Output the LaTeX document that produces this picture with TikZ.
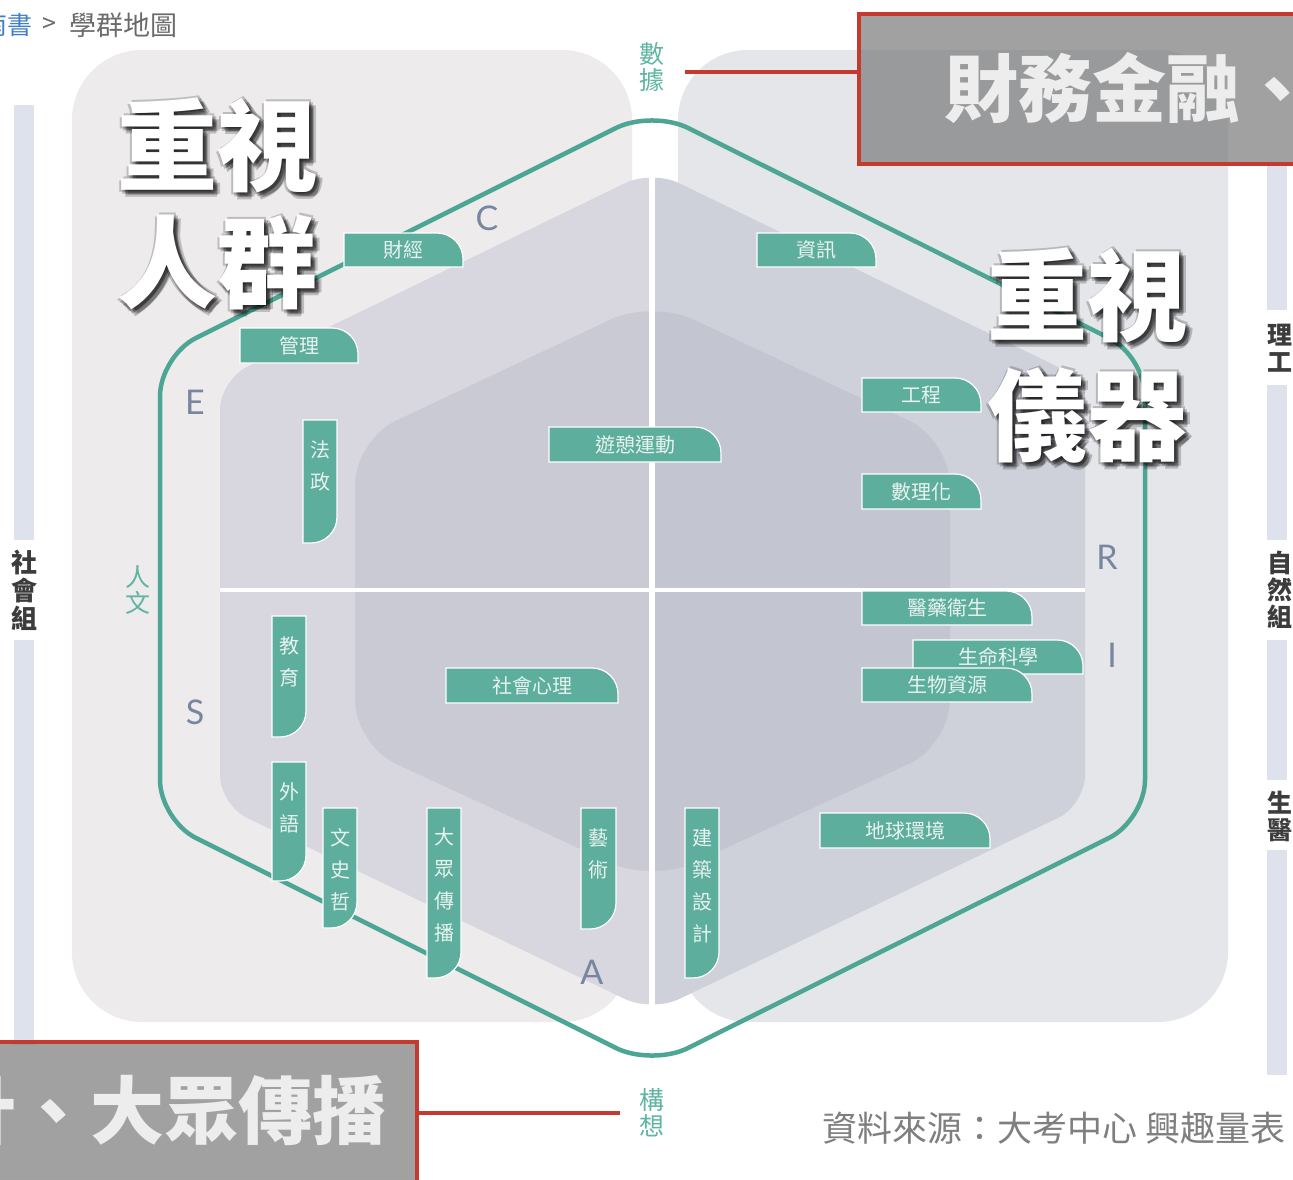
\documentclass[tikz,border=0pt]{standalone}
\usepackage{fontspec}
\setmainfont{Noto Sans}
\newfontfamily\cjk{Noto Sans CJK TC}
\newfontfamily\latinsans{Lato}
\usetikzlibrary{calc}
\definecolor{panelL}{HTML}{EEEBED}
\definecolor{panelR}{HTML}{E5E6EA}
\definecolor{midL}{HTML}{D8D7DF}
\definecolor{midR}{HTML}{CFD1DA}
\definecolor{innL}{HTML}{CACAD4}
\definecolor{innR}{HTML}{C3C6D1}
\definecolor{tealline}{HTML}{4DA694}
\definecolor{tealtxt}{HTML}{5DB5A2}
\definecolor{tagc}{HTML}{5DAE9C}
\definecolor{tagt}{HTML}{E8F3F0}
\definecolor{letc}{HTML}{7886A0}
\definecolor{barc}{HTML}{DDE2EC}
\definecolor{redc}{HTML}{C43A2F}
\definecolor{boxc}{HTML}{7A7A7A}
\definecolor{crumbblue}{HTML}{3F7FC8}
\definecolor{crumbgray}{HTML}{6A6A6A}
\definecolor{srcgray}{HTML}{7F7F7F}
\definecolor{sidec}{HTML}{3C3C3C}

\tikzset{
  tagbox/.style={fill=tagc, draw=white, line width=1.2pt},
  tagtext/.style={font=\cjk\fontsize{20}{24}\selectfont, text=tagt, inner sep=0pt},
  vtagtext/.style={font=\cjk\fontsize{20}{32}\selectfont, text=tagt, inner sep=0pt, align=center},
  bigtxt/.style={font=\cjk\bfseries\fontsize{100}{100}\selectfont, inner sep=0pt},
  boxtxt/.style={font=\cjk\bfseries\fontsize{74}{74}\selectfont, text=white!93!black, inner sep=0pt},
  graybox/.style={fill=boxc, fill opacity=0.7, draw=redc, draw opacity=1, line width=4pt, inner sep=0pt},
  redline/.style={draw=redc, line width=3.5pt},
  letter/.style={font=\latinsans\fontsize{34}{34}\selectfont, text=letc, inner sep=0pt},
  axislabel/.style={font=\cjk\fontsize{25}{26}\selectfont, text=tealtxt, align=center, inner sep=0pt},
  sidelabel/.style={font=\cjk\bfseries\fontsize{26}{28}\selectfont, text=sidec, align=center, inner sep=0pt},
  hexline/.style={draw=tealline, line width=4.5pt},
}

\newcommand\htag[6]{%
  \path[tagbox] (#2,#3) -- ({#4-26},#3) .. controls ({#4-11.6},#3) and (#4,{#3+11.6}) .. (#4,{#3+26}) -- (#4,#5) -- (#2,#5) -- cycle;
  \node[tagtext] (#1) at ({(#2+#4)/2},{(#3+#5)/2}) {#6};
}
\newcommand\vtag[6]{%
  \path[tagbox] (#2,#3) -- (#4,#3) -- (#4,{#5-26}) .. controls (#4,{#5-11.6}) and ({#4-11.6},#5) .. ({#4-26},#5) -- (#2,#5) -- cycle;
  \node[vtagtext, anchor=north] (#1) at ({(#2+#4)/2},{#3+20}) {#6};
}
\newcommand\bigword[4]{%
  \foreach \dx/\dy [count=\k] in {3/3,5/5,1/4,4/1,-2/2,2/-2,7/4,4/7} {
    \node[bigtxt, text=black, opacity=0.2] (#1s\k) at ({#2+\dx},{#3+\dy}) {#4};
  }
  \node[bigtxt, text=white] (#1) at (#2,#3) {#4};
}

\begin{document}
\begin{tikzpicture}[x=1pt,y=-1pt]
\useasboundingbox (0,0) rectangle (1293,1179);
\begin{scope}
\clip (0,0) rectangle (1293,1179);
\fill[white] (0,0) rectangle (1293,1179);

% panels
\fill[panelL, rounded corners=70pt] (72,50) rectangle (632,1022);
\fill[panelR, rounded corners=70pt] (678,50) rectangle (1228,1022);

% middle and inner hexagon halves
\begin{scope}
\clip (0,0) rectangle (652,1179);
\fill[midL, rounded corners=30pt] (868.5,275) -- (1085,380) -- (1085,805) -- (652,1012) -- (220,805) -- (220,380) -- (652,170) -- cycle;
\fill[innL, rounded corners=45pt] (801,370) -- (950,440) -- (950,745) -- (652,882) -- (355,745) -- (355,440) -- (652,300) -- cycle;
\end{scope}
\begin{scope}
\clip (652,0) rectangle (1293,1179);
\fill[midR, rounded corners=30pt] (868.5,275) -- (1085,380) -- (1085,805) -- (652,1012) -- (220,805) -- (220,380) -- (652,170) -- cycle;
\fill[innR, rounded corners=45pt] (801,370) -- (950,440) -- (950,745) -- (652,882) -- (355,745) -- (355,440) -- (652,300) -- cycle;
\end{scope}

% white cross
\draw[white, line width=6pt] (652,168) -- (652,1012);
\draw[white, line width=4pt] (220,590) -- (1085,590);

% outer hexagon
\draw[hexline, rounded corners=40pt] (898.5,233) -- (1145,356) -- (1145,820) -- (652,1066) -- (160,820) -- (160,356) -- (652,110) -- cycle;

% side bars
\fill[barc] (14,105) rectangle (34,540);
\fill[barc] (14,640) rectangle (34,1045);
\fill[barc] (1267,162) rectangle (1287,310);
\fill[barc] (1267,385) rectangle (1287,540);
\fill[barc] (1267,640) rectangle (1287,780);
\fill[barc] (1267,850) rectangle (1287,1075);

% letters
\node[letter] (lC) at (487,218) {C};
\node[letter] (lE) at (195,402) {E};
\node[letter] (lR) at (1107,557) {R};
\node[letter] (lI) at (1112,655) {I};
\node[letter] (lS) at (195,712) {S};
\node[letter] (lA) at (592,972) {A};

% axis labels
\node[axislabel] (shuju) at (652,67) {數\\據};
\node[axislabel] (gouxiang) at (652,1113) {構\\想};
\node[axislabel] (renwen) at (138,590) {人\\文};

% horizontal tags
\htag{tCaijing}{344}{233}{463}{267}{財經}
\htag{tGuanli}{240}{328}{358}{363}{管理}
\htag{tZixun}{757}{233}{876}{267}{資訊}
\htag{tGongcheng}{862}{378}{981}{412}{工程}
\htag{tYouqi}{549}{427}{721}{462}{遊憩運動}
\htag{tShulihua}{862}{474}{981}{509}{數理化}
\htag{tYiyao}{862}{591}{1032}{625}{醫藥衛生}
\htag{tShengming}{913}{640}{1083}{674}{生命科學}
\htag{tShengwu}{862}{668}{1032}{702}{生物資源}
\htag{tShehui}{446}{668}{618}{703}{社會心理}
\htag{tDiqiu}{820}{813}{990}{848}{地球環境}

% vertical tags
\vtag{tFazheng}{303}{420}{337}{543}{法\\政}
\vtag{tJiaoyu}{272}{616}{306}{737}{教\\育}
\vtag{tWaiyu}{272}{762}{306}{881}{外\\語}
\vtag{tWenshi}{323}{808}{357}{928}{文\\史\\哲}
\vtag{tDazhong}{427}{808}{461}{978}{大\\眾\\傳\\播}
\vtag{tYishu}{581}{808}{616}{929}{藝\\術}
\vtag{tJianzhu}{685}{808}{719}{978}{建\\築\\設\\計}

% big overlay words
\bigword{wA}{217}{145}{重視}
\bigword{wB}{217}{262}{人群}
\bigword{wC}{1087}{295}{重視}
\bigword{wD}{1087}{415}{儀器}

% side labels
\node[sidelabel] (sLeft) at (24,590) {社\\會\\組};
\node[sidelabel, font=\cjk\bfseries\fontsize{25}{27}\selectfont] (sLigong) at (1280,348) {理\\工};
\node[sidelabel, font=\cjk\bfseries\fontsize{25}{27}\selectfont] (sZiran) at (1280,590) {自\\然\\組};
\node[sidelabel, font=\cjk\bfseries\fontsize{25}{27}\selectfont] (sShengyi) at (1280,816) {生\\醫};

% breadcrumb
\node[font=\cjk\fontsize{25}{25}\selectfont, text=crumbblue, anchor=east, inner sep=0pt] (crumbA) at (33,25) {南書};
\node[font=\cjk\fontsize{25}{25}\selectfont, text=crumbgray, inner sep=0pt] (crumbB) at (49,25) {>};
\node[font=\cjk\fontsize{27}{27}\selectfont, text=crumbgray, anchor=west, inner sep=0pt] (crumbC) at (69,25) {學群地圖};

% gray call-out boxes
\node[graybox, anchor=north west, minimum width=460pt, minimum height=150pt] (topbox) at (857,12) {};
\node[boxtxt, anchor=west] (topboxtxt) at (944,88) {財務金融、};
\node[graybox, anchor=north west, minimum width=425pt, minimum height=150pt] (botbox) at (-10,1040) {};
\node[boxtxt, anchor=east] (botboxtxt) at (387,1110) {計、大眾傳播};

% red connectors
\coordinate (rl1) at (685,72);
\draw[redline] (rl1) -- (rl1 -| topbox.west);
\coordinate (rl2) at (620,1113);
\draw[redline] (rl2 -| botbox.east) -- (rl2);

% source
\node[font=\cjk\fontsize{35}{35}\selectfont, text=srcgray, anchor=west, inner sep=0pt] (source) at (822,1128) {資料來源：大考中心 興趣量表};
\end{scope}
\end{tikzpicture}
\end{document}
